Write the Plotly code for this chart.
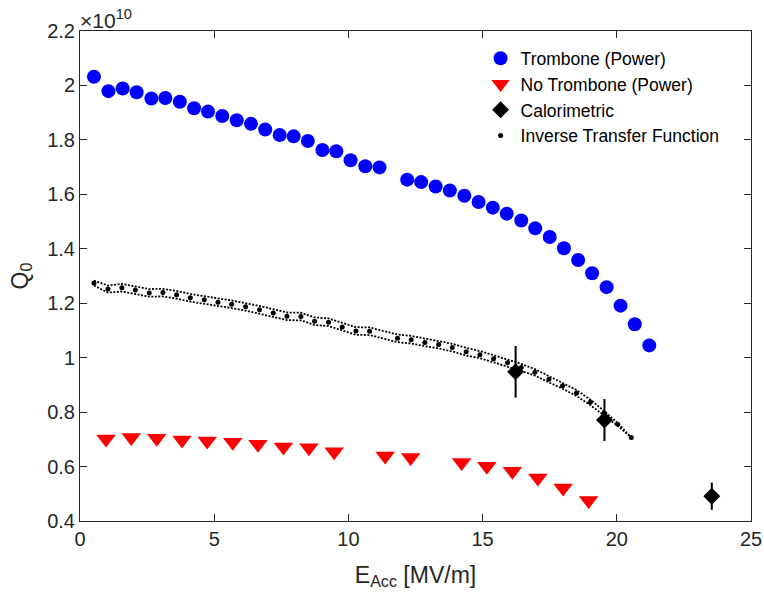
import plotly.graph_objects as go

# ---- data (Q0 in units of 1e10) ----
trombone_E = [0.52, 1.06, 1.59, 2.11, 2.66, 3.18, 3.72, 4.25, 4.77, 5.30, 5.84, 6.37, 6.90, 7.44,
              7.96, 8.49, 9.03, 9.55, 10.08, 10.63, 11.16, 12.19, 12.71, 13.25, 13.78, 14.32, 14.85,
              15.38, 15.90, 16.44, 16.96, 17.50, 18.03, 18.56, 19.08, 19.62, 20.14, 20.67, 21.21]
trombone_Q = [2.032, 1.979, 1.989, 1.975, 1.952, 1.954, 1.940, 1.916, 1.904, 1.888, 1.872, 1.859,
              1.838, 1.818, 1.813, 1.796, 1.763, 1.758, 1.725, 1.703, 1.699, 1.654, 1.645, 1.629,
              1.614, 1.595, 1.572, 1.551, 1.529, 1.504, 1.475, 1.443, 1.402, 1.359, 1.310, 1.259,
              1.191, 1.123, 1.045]

notrombone_E = [0.97, 1.91, 2.86, 3.80, 4.74, 5.69, 6.63, 7.58, 8.53, 9.47, 11.37, 12.32,
                14.22, 15.16, 16.11, 17.06, 18.00, 18.95]
notrombone_Q = [0.701, 0.707, 0.704, 0.698, 0.694, 0.689, 0.682, 0.672, 0.669, 0.654, 0.639, 0.633,
                0.615, 0.601, 0.583, 0.558, 0.521, 0.475]

calor_E = [16.23, 19.54, 23.54]
calor_Q = [0.948, 0.771, 0.491]
calor_err = [0.095, 0.077, 0.050]

itf_E = [0.52, 1.04, 1.56, 2.06, 2.58, 3.09, 3.60, 4.11, 4.63, 5.14, 5.65, 6.17, 6.69, 7.20, 7.71,
         8.23, 8.74, 9.26, 9.77, 10.28, 10.79, 11.83, 12.34, 12.85, 13.36, 13.87, 14.39, 14.90,
         15.41, 15.93, 16.44, 16.95, 17.47, 17.98, 18.50, 19.01, 19.52, 20.03, 20.54]
itf_Q = [1.274, 1.252, 1.257, 1.249, 1.238, 1.239, 1.231, 1.220, 1.213, 1.204, 1.196, 1.187, 1.176,
         1.164, 1.152, 1.151, 1.134, 1.130, 1.113, 1.098, 1.097, 1.071, 1.066, 1.056, 1.048, 1.037,
         1.022, 1.011, 0.996, 0.981, 0.964, 0.946, 0.921, 0.897, 0.870, 0.836, 0.797, 0.755, 0.707]
itf_band = [0.009, 0.013, 0.014, 0.014, 0.014, 0.014, 0.014, 0.014, 0.014, 0.014, 0.014, 0.014,
            0.014, 0.014, 0.014, 0.014, 0.014, 0.014, 0.014, 0.014, 0.014, 0.014, 0.014, 0.014,
            0.014, 0.014, 0.014, 0.013, 0.013, 0.013, 0.013, 0.012, 0.012, 0.011, 0.011, 0.010,
            0.008, 0.005, 0.0]

x_ticks = [0, 5, 10, 15, 20, 25]
y_ticks = [0.4, 0.6, 0.8, 1.0, 1.2, 1.4, 1.6, 1.8, 2.0, 2.2]
y_ticktext = ["0.4", "0.6", "0.8", "1", "1.2", "1.4", "1.6", "1.8", "2", "2.2"]

TXT = "#262626"
FONT = "Liberation Sans, Arial, sans-serif"

band_x = itf_E + itf_E[::-1] + [itf_E[0]]
upper = [q + b for q, b in zip(itf_Q, itf_band)]
lower = [q - b for q, b in zip(itf_Q, itf_band)]
band_y = upper + lower[::-1] + [upper[0]]

fig = go.Figure()
fig.add_trace(go.Scatter(x=trombone_E, y=trombone_Q, mode="markers", name="Trombone (Power)",
                         marker=dict(symbol="circle", size=14, color="#0000ff", line=dict(width=0))))
fig.add_trace(go.Scatter(x=notrombone_E, y=notrombone_Q, mode="markers", name="No Trombone (Power)",
                         marker=dict(symbol="triangle-down", size=17, color="#ff0000", line=dict(width=0))))
fig.add_trace(go.Scatter(x=calor_E, y=calor_Q, mode="markers", name="Calorimetric",
                         marker=dict(symbol="diamond", size=13, color="black", line=dict(width=0)),
                         error_y=dict(type="data", array=calor_err, visible=True, color="black",
                                      thickness=2, width=0)))
fig.add_trace(go.Scatter(x=band_x, y=band_y, mode="lines", showlegend=False, hoverinfo="skip",
                         line=dict(color="black", width=1.8, dash="2px,1.5px")))
fig.add_trace(go.Scatter(x=itf_E, y=itf_Q, mode="markers", name="Inverse Transfer Function",
                         marker=dict(symbol="circle", size=5, color="black", line=dict(width=0))))

axis_common = dict(showline=True, linecolor=TXT, linewidth=1, mirror="ticks", ticks="inside",
                   ticklen=7, tickcolor=TXT, tickwidth=1, showgrid=False, zeroline=False,
                   automargin=False,
                   tickfont=dict(family=FONT, size=20, color=TXT))

fig.update_layout(
    width=764, height=594,
    margin=dict(l=80, r=13, t=31, b=73),
    paper_bgcolor="white", plot_bgcolor="white",
    font=dict(family=FONT, color=TXT),
    xaxis=dict(range=[0, 25], tickvals=x_ticks, ticktext=[str(v) for v in x_ticks],
               title=dict(text="E<sub>Acc</sub> [MV/m]", font=dict(family=FONT, size=23, color=TXT),
                          standoff=17),
               **axis_common),
    yaxis=dict(range=[0.4, 2.2], tickvals=y_ticks, ticktext=y_ticktext,
               title=dict(text="Q<sub>0</sub>", font=dict(family=FONT, size=23, color=TXT),
                          standoff=12),
               **axis_common),
    legend=dict(x=0.597, y=0.981, xanchor="left", yanchor="top", bgcolor="rgba(0,0,0,0)",
                borderwidth=0, font=dict(family=FONT, size=17.5, color="black"),
                traceorder="normal"),
    showlegend=True,
)
fig.add_annotation(text="\u00d710<sup>10</sup>", xref="paper", yref="paper", x=0.0, y=1.0,
                   xanchor="left", yanchor="bottom", showarrow=False,
                   font=dict(family=FONT, size=21, color=TXT), xshift=-2, yshift=-3)

fig.write_html("out.html")
